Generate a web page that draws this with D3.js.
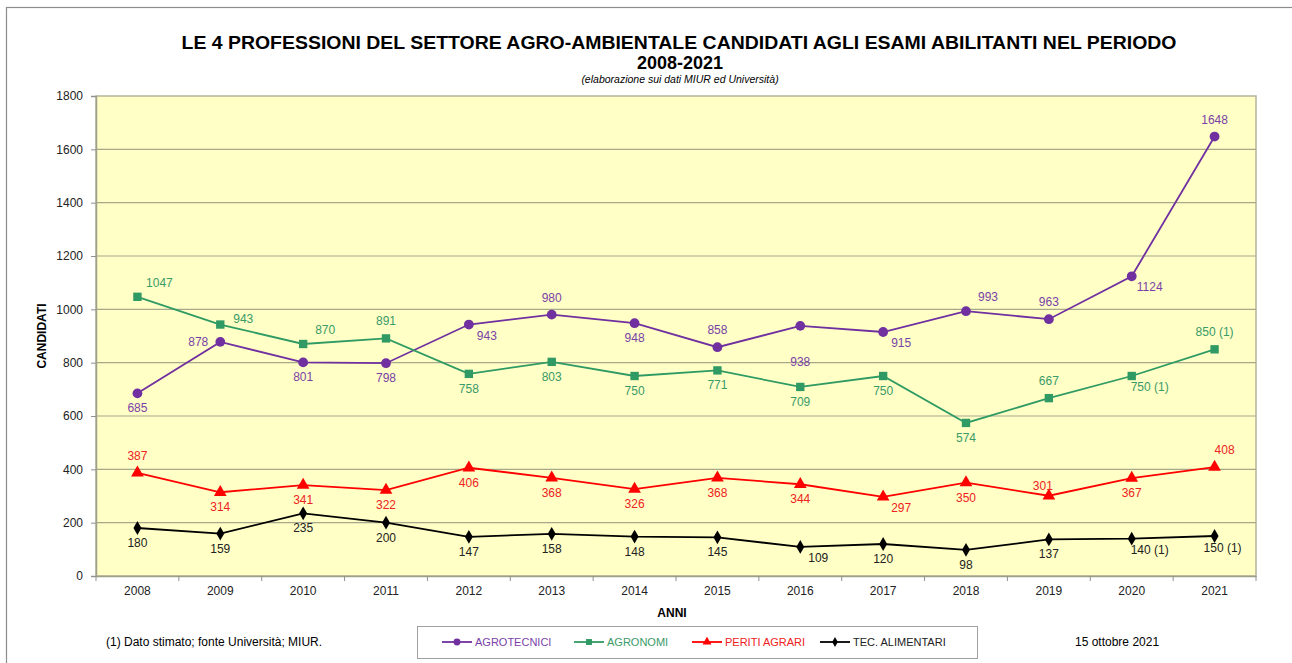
<!DOCTYPE html>
<html>
<head>
<meta charset="utf-8">
<script src="https://cdn.jsdelivr.net/npm/d3@7"></script>
<style>
  body { margin: 0; background: #fff; }
  svg text { font-family: "Liberation Sans", Arial, sans-serif; }
</style>
</head>
<body>
<svg id="chart" width="1292" height="663"></svg>
<script>
const years = ["2008", "2009", "2010", "2011", "2012", "2013", "2014", "2015", "2016", "2017", "2018", "2019", "2020", "2021"];
const yTicks = [0, 200, 400, 600, 800, 1000, 1200, 1400, 1600, 1800];

const agrotecnici = [685, 878, 801, 798, 943, 980, 948, 858, 938, 915, 993, 963, 1124, 1648];
const agronomi = [1047, 943, 870, 891, 758, 803, 750, 771, 709, 750, 574, 667, 750, 850];
const periti = [387, 314, 341, 322, 406, 368, 326, 368, 344, 297, 350, 301, 367, 408];
const tecAlimentari = [180, 159, 235, 200, 147, 158, 148, 145, 109, 120, 98, 137, 140, 150];

// estimated values get a "(1)" note
const agronomiNotes = ["", "", "", "", "", "", "", "", "", "", "", "", " (1)", " (1)"];
const tecNotes = ["", "", "", "", "", "", "", "", "", "", "", "", " (1)", " (1)"];

// where the value label sits: a above, b below, l left, r right, ar/br/al corners
const agrotecniciLbl = ["b", "l", "b", "b", "br", "a", "b", "a", "bb", "br", "ar", "a", "br", "a"];
const agronomiLbl = ["ar", "r", "ar", "a", "b", "b", "b", "b", "b", "b", "b", "a", "br", "a"];
const peritiLbl = ["a", "b", "b", "b", "b", "b", "b", "b", "b", "br", "b", "al", "b", "ar2"];
const tecLbl = ["b", "b", "b", "b", "b", "b", "b", "b", "br", "b", "b", "b", "br", "br2"];

const series = [
  { name: "AGROTECNICI", values: agrotecnici, notes: null, lbl: agrotecniciLbl, color: "#7030a0", text: "#7a3fa8", marker: d3.symbolCircle, size: 75 },
  { name: "AGRONOMI", values: agronomi, notes: agronomiNotes, lbl: agronomiLbl, color: "#2f9a63", text: "#3a9a68", marker: d3.symbolSquare, size: 70 },
  { name: "PERITI AGRARI", values: periti, notes: null, lbl: peritiLbl, color: "#ff0000", text: "#ee2222", marker: d3.symbolTriangle, size: 70 },
  { name: "TEC. ALIMENTARI", values: tecAlimentari, notes: tecNotes, lbl: tecLbl, color: "#000000", text: "#222222", marker: d3.symbolDiamond, size: 55 },
];

const offsets = {
  a: [0, -13], b: [0, 19], bb: [0, 40], l: [-22, 4], r: [23, -2],
  ar: [22, -10], ar2: [10, -13], br: [18, 15], br2: [8, 16], al: [-6, -6],
};

const svg = d3.select("#chart");
const plot = { left: 96, right: 1256, top: 96, bottom: 576 };

const x = d3.scaleBand().domain(years).range([plot.left, plot.right]);
const y = d3.scaleLinear().domain([0, 1800]).range([plot.bottom, plot.top]);

// outer frame
svg.append("rect")
  .attr("x", 6.5).attr("y", 7.5)
  .attr("width", 1300).attr("height", 700)
  .style("fill", "none").style("stroke", "#8c8c8c").style("stroke-width", 1.2);

// plot background
svg.append("rect")
  .attr("x", plot.left).attr("y", plot.top)
  .attr("width", plot.right - plot.left).attr("height", plot.bottom - plot.top)
  .style("fill", "#ffffc6").style("stroke", "#b4b49a").style("stroke-width", 1.5);

// grid
svg.append("g")
  .selectAll("line")
  .data(yTicks.slice(1, -1))
  .enter()
  .append("line")
  .attr("x1", plot.left).attr("x2", plot.right)
  .attr("y1", (d) => y(d)).attr("y2", (d) => y(d))
  .style("stroke", "#a8a88c").style("stroke-width", 1.2);

// y axis
const yAxis = svg.append("g")
  .attr("transform", `translate(${plot.left},0)`)
  .call(d3.axisLeft(y).tickValues(yTicks).tickFormat(d3.format("d")).tickSize(5).tickPadding(8));
yAxis.select(".domain").style("stroke", "#a0a08a").style("stroke-width", 1.5);
yAxis.selectAll(".tick line").style("stroke", "#909090");
yAxis.selectAll(".tick text").style("font-size", "12px").style("fill", "#222")
  .style("font-family", "Liberation Sans, Arial, sans-serif");

// x axis, ticks between categories
const xAxis = svg.append("g")
  .attr("transform", `translate(0,${plot.bottom})`)
  .call(d3.axisBottom(x).tickSize(0).tickPadding(10));
xAxis.select(".domain").style("stroke", "#a0a08a").style("stroke-width", 1.5);
xAxis.selectAll(".tick text").style("font-size", "12px").style("fill", "#222")
  .style("font-family", "Liberation Sans, Arial, sans-serif");
svg.append("g")
  .selectAll("line")
  .data(years.concat(["end"]))
  .enter()
  .append("line")
  .attr("x1", (d, i) => plot.left + i * x.step())
  .attr("x2", (d, i) => plot.left + i * x.step())
  .attr("y1", plot.bottom).attr("y2", plot.bottom + 5)
  .style("stroke", "#909090");

// axis titles
svg.append("text")
  .attr("x", 672).attr("y", 617)
  .attr("text-anchor", "middle")
  .style("font-size", "12px").style("font-weight", "bold")
  .text("ANNI");
svg.append("text")
  .attr("transform", "translate(46,336) rotate(-90)")
  .attr("text-anchor", "middle")
  .style("font-size", "12px").style("font-weight", "bold")
  .text("CANDIDATI");

// titles
svg.append("text")
  .attr("x", 679).attr("y", 49)
  .attr("text-anchor", "middle")
  .attr("textLength", 995).attr("lengthAdjust", "spacingAndGlyphs")
  .style("font-size", "18px").style("font-weight", "bold")
  .text("LE 4  PROFESSIONI DEL SETTORE AGRO-AMBIENTALE CANDIDATI AGLI ESAMI ABILITANTI NEL PERIODO");
svg.append("text")
  .attr("x", 680).attr("y", 69)
  .attr("text-anchor", "middle")
  .attr("textLength", 86).attr("lengthAdjust", "spacingAndGlyphs")
  .style("font-size", "18px").style("font-weight", "bold")
  .text("2008-2021");
svg.append("text")
  .attr("x", 680).attr("y", 83)
  .attr("text-anchor", "middle")
  .style("font-size", "10.5px").style("font-style", "italic")
  .text("(elaborazione sui dati MIUR ed Università)");

// series
const line = d3.line()
  .x((d, i) => x(years[i]) + x.bandwidth() / 2)
  .y((d) => y(d));

series.forEach((s) => {
  const g = svg.append("g").attr("data-series", s.name);
  g.append("path")
    .datum(s.values)
    .attr("d", line)
    .style("fill", "none")
    .style("stroke", s.color)
    .style("stroke-width", 1.8);
  g.selectAll("path.marker")
    .data(s.values)
    .enter()
    .append("path")
    .attr("class", "marker")
    .attr("d", d3.symbol().type(s.marker).size(s.size))
    .attr("transform", (d, i) => `translate(${x(years[i]) + x.bandwidth() / 2},${y(d)})`)
    .style("fill", s.color);
  g.selectAll("text")
    .data(s.values)
    .enter()
    .append("text")
    .attr("x", (d, i) => x(years[i]) + x.bandwidth() / 2 + offsets[s.lbl[i]][0])
    .attr("y", (d, i) => y(d) + offsets[s.lbl[i]][1])
    .attr("text-anchor", "middle")
    .style("font-size", "12px")
    .style("fill", s.text)
    .text((d, i) => d + (s.notes ? s.notes[i] : ""));
});

// legend
const legend = svg.append("g");
legend.append("rect")
  .attr("x", 417.5).attr("y", 626.5)
  .attr("width", 560).attr("height", 32)
  .style("fill", "#fff").style("stroke", "#a0a0a0");
const legendX = [442, 574, 692, 820];
series.forEach((s, i) => {
  const lg = legend.append("g").attr("transform", `translate(${legendX[i]},642)`);
  lg.append("line").attr("x1", 0).attr("x2", 30).style("stroke", s.color).style("stroke-width", 1.8);
  lg.append("path")
    .attr("d", d3.symbol().type(s.marker).size(s.size * 0.5))
    .attr("transform", "translate(15,0)")
    .style("fill", s.color);
  lg.append("text")
    .attr("x", 33).attr("y", 4)
    .style("font-size", "11px")
    .style("fill", s.text)
    .text(s.name);
});

// notes
svg.append("text")
  .attr("x", 106).attr("y", 646)
  .style("font-size", "12px")
  .text("(1) Dato stimato; fonte Università; MIUR.");
svg.append("text")
  .attr("x", 1075).attr("y", 646)
  .style("font-size", "12px")
  .text("15 ottobre 2021");
</script>
</body>
</html>
